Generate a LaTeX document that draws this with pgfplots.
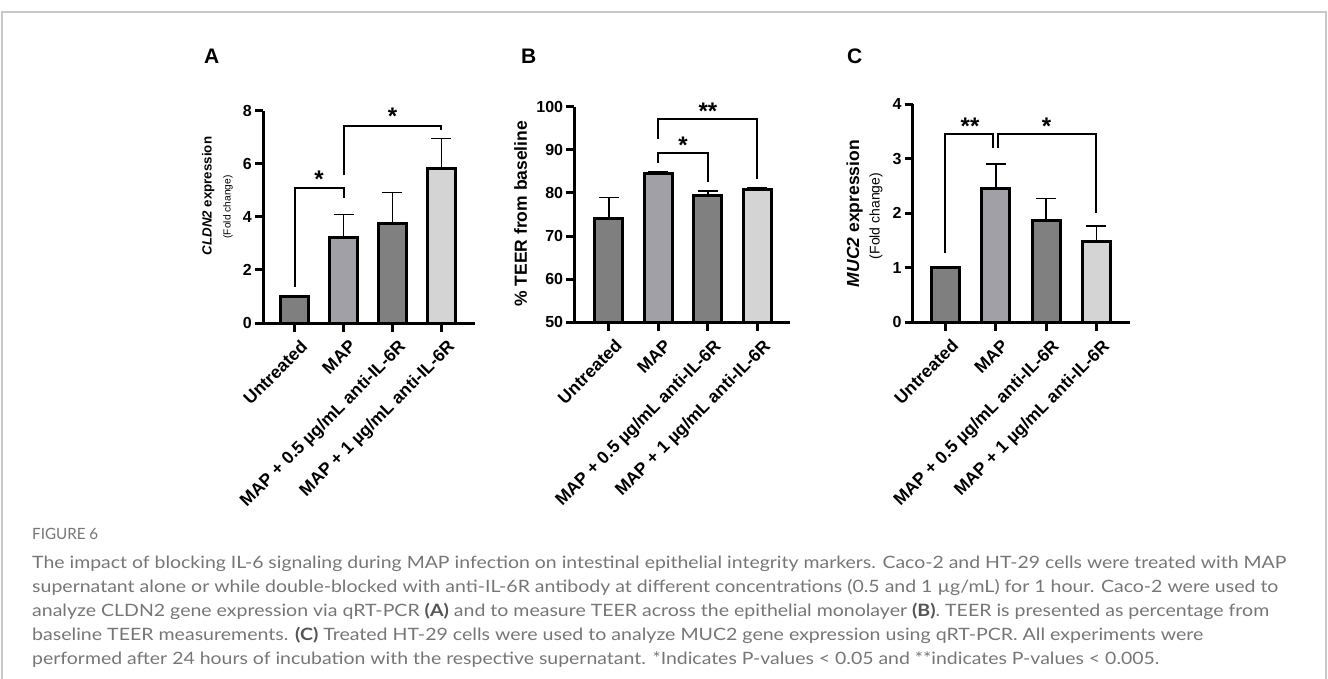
\documentclass[border=0pt]{standalone}
\usepackage{graphicx}
\usepackage{fontspec}
\setmainfont{Liberation Sans}
\newfontfamily\capfont{Lato}
\usepackage{pgfplots}
\pgfplotsset{compat=1.18}
\definecolor{cA}{RGB}{127,127,127}
\definecolor{cB}{RGB}{161,160,166}
\definecolor{cC}{RGB}{128,128,128}
\definecolor{cD}{RGB}{212,212,212}
\definecolor{capgray}{RGB}{118,118,118}
\definecolor{capdark}{RGB}{85,85,85}
\definecolor{framegray}{RGB}{200,200,200}
\newcommand{\fs}[1]{\fontsize{#1}{#1}\selectfont}
\newcommand{\captext}[2]{\resizebox{#1}{\height}{\capfont\fontsize{17}{20}\selectfont\color{capgray}#2}}

\tikzset{brk/.style={line width=2pt, black}}
\pgfplotsset{
  panel/.style={
    ybar, bar width=28pt, bar shift=0pt,
    scale only axis,
    anchor=south west,
    axis on top,
    axis x line*=bottom, axis y line*=left,
    axis line style={line width=3pt,-},
    every tick/.style={black, line width=3pt},
    major tick length=8pt,
    tick align=outside,
    xtick={0,1,2,3},
    xticklabels={Untreated,MAP,MAP + 0.5 µg/mL anti-IL-6R,MAP + 1 µg/mL anti-IL-6R},
    x tick label style={rotate=45, anchor=north east, font=\bfseries\fs{17.5}, inner sep=2pt, yshift=-7pt},
    y tick label style={font=\bfseries\fs{16}, inner sep=3pt},
    /pgf/number format/assume math mode=true,
    clip mode=individual,
  },
  mybar/.style={draw=black, line width=3pt, fill=#1,
    error bars/y dir=plus, error bars/y explicit,
    error bars/error bar style={line width=1.6pt, black},
    error bars/error mark options={rotate=90, line width=1.6pt, black, mark size=10pt}},
}
\newcommand{\xticksat}[1]{\pgfplotsinvokeforeach{0,1,2,3}{\draw[black, line width=3pt] (axis cs:##1,#1) -- ++(0pt,-9pt);}}

\begin{document}
\begin{tikzpicture}[x=1pt,y=1pt]
\useasboundingbox (0,0) rectangle (1328,678);
\draw[framegray, line width=1.5pt] (2,-10) -- (2,666) -- (1326,666) -- (1326,-10);

\node[anchor=base west, font=\bfseries\fs{21}, inner sep=0] at (204,614.7) {A};
\node[anchor=base west, font=\bfseries\fs{21}, inner sep=0] at (521,614.7) {B};
\node[anchor=base west, font=\bfseries\fs{21}, inner sep=0] at (847,614.7) {C};

% y-axis titles
\node[rotate=90, anchor=center, inner sep=0, font=\bfseries\fs{13.3}] at (208.3,482) {\textit{CLDN2} expression};
\node[rotate=90, anchor=center, inner sep=0, font=\fs{10.2}] at (228,471) {(Fold change)};
\node[rotate=90, anchor=center, inner sep=0, font=\bfseries\fs{17.5}] at (520.5,464.2) {\% TEER from baseline};
\node[rotate=90, anchor=center, inner sep=0, font=\bfseries\fs{17.5}] at (854.5,464.3) {\textit{MUC2} expression};
\node[rotate=90, anchor=center, inner sep=0, font=\fs{14}] at (876,462) {(Fold change)};

% Panel A
\begin{axis}[panel, at={(263pt,355pt)}, width=212pt, height=212pt,
  xmin=-0.643, xmax=3.684, ymin=0, ymax=8, ytick={0,2,4,6,8}]
\addplot[mybar=cA] coordinates {(0,1.0) +- (0,0.02)};
\addplot[mybar=cB] coordinates {(1,3.22) +- (0,0.87)};
\addplot[mybar=cC] coordinates {(2,3.75) +- (0,1.17)};
\addplot[mybar=cD] coordinates {(3,5.82) +- (0,1.14)};
\xticksat{0}
\draw[brk] (axis cs:0,1.37) -- (axis cs:0,5.1) -- (axis cs:1,5.1) -- (axis cs:1,4.7);
\draw[brk] (axis cs:1,5.58) -- (axis cs:1,7.43) -- (axis cs:3,7.43) -- (axis cs:3,7.28);
\node[anchor=base, font=\bfseries\fs{24}, inner sep=0, yshift=-14pt] at (axis cs:0.5,5.65) {*};
\node[anchor=base, font=\bfseries\fs{24}, inner sep=0, yshift=-14pt] at (axis cs:2,8.0) {*};
\end{axis}

% Panel B
\begin{axis}[panel, at={(574.3pt,355.7pt)}, width=215.7pt, height=215.6pt,
  xmin=-0.70, xmax=3.66, ymin=50, ymax=100, ytick={50,60,70,80,90,100}]
\addplot[mybar=cA] coordinates {(0,74.0) +- (0,4.9)};
\addplot[mybar=cB] coordinates {(1,84.6) +- (0,0.35)};
\addplot[mybar=cC] coordinates {(2,79.3) +- (0,1.2)};
\addplot[mybar=cD] coordinates {(3,80.8) +- (0,0.45)};
\xticksat{50}
\draw[brk] (axis cs:1,86.9) -- (axis cs:1,89.3) -- (axis cs:2,89.3) -- (axis cs:2,82.6);
\draw[brk] (axis cs:1,92.5) -- (axis cs:1,97.1) -- (axis cs:3,97.1) -- (axis cs:3,83.2);
\node[anchor=base, font=\bfseries\fs{24}, inner sep=0, yshift=-14pt] at (axis cs:1.5,92.5) {*};
\node[anchor=base, font=\bfseries\fs{24}, inner sep=0, yshift=-14pt] at (axis cs:2,100.3) {**};
\end{axis}

% Panel C
\begin{axis}[panel, at={(912.7pt,355.7pt)}, width=217.3pt, height=218pt,
  xmin=-0.65, xmax=3.67, ymin=0, ymax=4, ytick={0,1,2,3,4}]
\addplot[mybar=cA] coordinates {(0,1.0) +- (0,0.02)};
\addplot[mybar=cB] coordinates {(1,2.46) +- (0,0.45)};
\addplot[mybar=cC] coordinates {(2,1.87) +- (0,0.40)};
\addplot[mybar=cD] coordinates {(3,1.49) +- (0,0.28)};
\xticksat{0}
\draw[brk] (axis cs:0,1.28) -- (axis cs:0,3.45) -- (axis cs:0.955,3.45) -- (axis cs:0.955,3.2);
\draw[brk] (axis cs:1.045,3.2) -- (axis cs:1.045,3.45) -- (axis cs:3,3.45) -- (axis cs:3,2.0);
\node[anchor=base, font=\bfseries\fs{24}, inner sep=0, yshift=-14pt] at (axis cs:0.49,3.7) {**};
\node[anchor=base, font=\bfseries\fs{24}, inner sep=0, yshift=-14pt] at (axis cs:2.01,3.7) {*};
\end{axis}

% Caption
\node[anchor=base west, inner sep=0] at (32,139) {\resizebox{66pt}{\height}{\capfont\fontsize{15.5}{18}\selectfont\color{capgray}FIGURE 6}};
\node[anchor=base west, inner sep=0] at (32,110) {\captext{1254pt}{The impact of blocking IL-6 signaling during MAP infection on intestinal epithelial integrity markers. Caco-2 and HT-29 cells were treated with MAP}};
\node[anchor=base west, inner sep=0] at (32,86) {\captext{1246pt}{supernatant alone or while double-blocked with anti-IL-6R antibody at different concentrations (0.5 and 1 µg/mL) for 1 hour. Caco-2 were used to}};
\node[anchor=base west, inner sep=0] at (32,62) {\captext{1237pt}{analyze CLDN2 gene expression via qRT-PCR {\bfseries\color{capdark}(A)} and to measure TEER across the epithelial monolayer {\bfseries\color{capdark}(B)}. TEER is presented as percentage from}};
\node[anchor=base west, inner sep=0] at (32,38) {\captext{1171pt}{baseline TEER measurements. {\bfseries\color{capdark}(C)} Treated HT-29 cells were used to analyze MUC2 gene expression using qRT-PCR. All experiments were}};
\node[anchor=base west, inner sep=0] at (32,14) {\captext{1127pt}{performed after 24 hours of incubation with the respective supernatant. *Indicates P-values < 0.05 and **indicates P-values < 0.005.}};
\end{tikzpicture}
\end{document}
